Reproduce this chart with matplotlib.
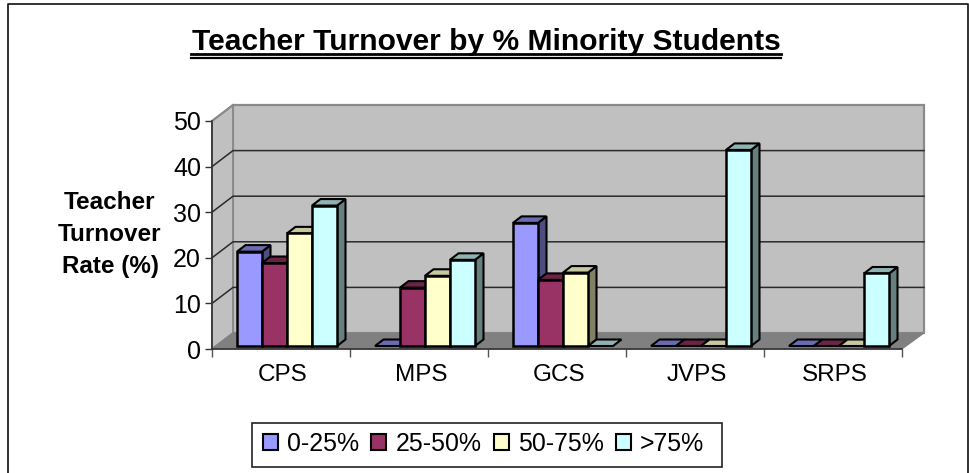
import numpy as np
import matplotlib
matplotlib.use("Agg")
import matplotlib.pyplot as plt
from matplotlib.patches import Polygon, Rectangle
from matplotlib.lines import Line2D

plt.rcParams['font.family'] = ['Liberation Sans', 'DejaVu Sans']

schools = ["CPS", "MPS", "GCS", "JVPS", "SRPS"]
group_labels = ["0-25%", "25-50%", "50-75%", ">75%"]
low = [20.7, 0, 27.0, 0, 0]
mid_low = [18.2, 12.8, 14.5, 0, 0]
mid_high = [24.7, 15.4, 16.1, 0, 0]
high = [30.8, 18.9, 0, 43.0, 15.9]
series = [low, mid_low, mid_high, high]

front_cols = ["#9999FF", "#993366", "#FFFFCC", "#CCFFFF"]
side_cols = ["#4D4D80", "#4D1A33", "#808066", "#668080"]
top_cols = ["#6B6BB3", "#6B2447", "#C8C8A0", "#8FB3B3"]

fig = plt.figure(figsize=(9.69, 4.73), dpi=100)
W, H = 969, 473

# page frame, bottom edge runs off the image
fig.add_artist(Line2D([8/W, 8/W, 968/W, 968/W], [0, 1-4/H, 1-4/H, 0], color="#222222", lw=1.3))

ax = fig.add_axes([212/W, 1-349/H, 690/W, 228/H])
ax.set_xlim(0, 5)
ax.set_ylim(0, 50)
ax.patch.set_visible(False)

px = 5/690      # data units per pixel, x
py = 50/228     # data units per pixel, y
wall_dx, wall_dy = 21*px, 16*py
bar_dx, bar_dy = 8.5*px, 6.5*py
base = 3*py
inset = 25*px
bw = 25*px

# walls and floor
ax.add_patch(Polygon([(wall_dx, wall_dy), (5+wall_dx+1*px, wall_dy), (5+wall_dx+1*px, 50+wall_dy), (wall_dx, 50+wall_dy)],
                     fc="#C0C0C0", ec="#8A8A8A", lw=1.6, clip_on=False, zorder=1))
ax.add_patch(Polygon([(0, 0), (wall_dx, wall_dy), (wall_dx, 50+wall_dy), (0, 50)],
                     fc="#C0C0C0", ec="#8A8A8A", lw=1.4, clip_on=False, zorder=1))
ax.add_patch(Polygon([(0, 0), (5, 0), (5+wall_dx+1*px, wall_dy), (wall_dx, wall_dy)],
                     fc="#808080", ec="#808080", lw=0.8, clip_on=False, zorder=1.5))

for v in [10, 20, 30, 40]:
    ax.plot([0, wall_dx, 5+wall_dx+1*px], [v, v+wall_dy, v+wall_dy], color="#2A2A2A", lw=1.1,
            clip_on=False, zorder=2)
ax.plot([0, wall_dx], [50, 50+wall_dy], color="#8A8A8A", lw=1.4, clip_on=False, zorder=2)

# 3d bars
z = 3
for i, vals in enumerate(series):
    xs = np.arange(5) + inset + i*bw
    for x, v in zip(xs, vals):
        top = base + v
        if v > 0:
            ax.bar(x, v, width=bw, bottom=base, align="edge", color=front_cols[i],
                   edgecolor="black", lw=1.8, clip_on=False, zorder=z+0.5)
            ax.add_patch(Polygon([(x+bw, base), (x+bw+bar_dx, base+bar_dy), (x+bw+bar_dx, top+bar_dy), (x+bw, top)],
                                 fc=side_cols[i], ec="black", lw=1.5, clip_on=False, zorder=z))
        ax.add_patch(Polygon([(x, top), (x+bw, top), (x+bw+bar_dx, top+bar_dy), (x+bar_dx, top+bar_dy)],
                             fc=top_cols[i], ec="black", lw=1.5, clip_on=False, zorder=z))
        z += 1

for s in ["top", "right"]:
    ax.spines[s].set_visible(False)
for s in ["left", "bottom"]:
    ax.spines[s].set_color("#333333")
    ax.spines[s].set_linewidth(1.2)
    ax.spines[s].set_zorder(2)

ax.set_yticks([0, 10, 20, 30, 40, 50])
ax.set_xticks(np.arange(6))
ax.set_xticklabels([])
ax.set_xticks(np.arange(5)+0.5+2*px, schools, minor=True)
ax.tick_params(axis="y", labelsize=18, length=5, width=1, color="#333333", pad=3)
ax.tick_params(axis="x", which="major", length=6, width=1, color="#555555")
ax.tick_params(axis="x", which="minor", length=0, labelsize=17.5, pad=11)

fig.text(110/W, 1-234/H, "Teacher\nTurnover\nRate (%)", ha="center", va="center",
         fontsize=17.5, fontweight="bold", linespacing=1.5)

# title with its double underline
fig.text(486/W, 1-50/H, "Teacher Turnover by % Minority Students", ha="center", va="baseline",
         fontsize=21.6, fontweight="bold")
for yy, lw in [(54, 2.0), (58.5, 1.6)]:
    fig.add_artist(Line2D([191/W, 781/W], [1-yy/H, 1-yy/H], color="black", lw=lw))

# legend box is wider than the legend's own padding allows for this height
fig.add_artist(Rectangle((252/W, 1-467/H), 470/W, 44/H, transform=fig.transFigure,
                         fc="white", ec="#222222", lw=1.2))
handles = [Rectangle((0, 0), 1, 1, fc=c, ec="black", lw=1.5) for c in front_cols]
fig.legend(handles, group_labels, loc="center", bbox_to_anchor=(483.5/W, 1-444/H), ncols=4,
           fontsize=17.9, frameon=False,
           handlelength=0.6, handleheight=0.6, handletextpad=0.36, columnspacing=0.5,
           borderpad=0, borderaxespad=0)

fig.savefig("out.png", dpi=100)
